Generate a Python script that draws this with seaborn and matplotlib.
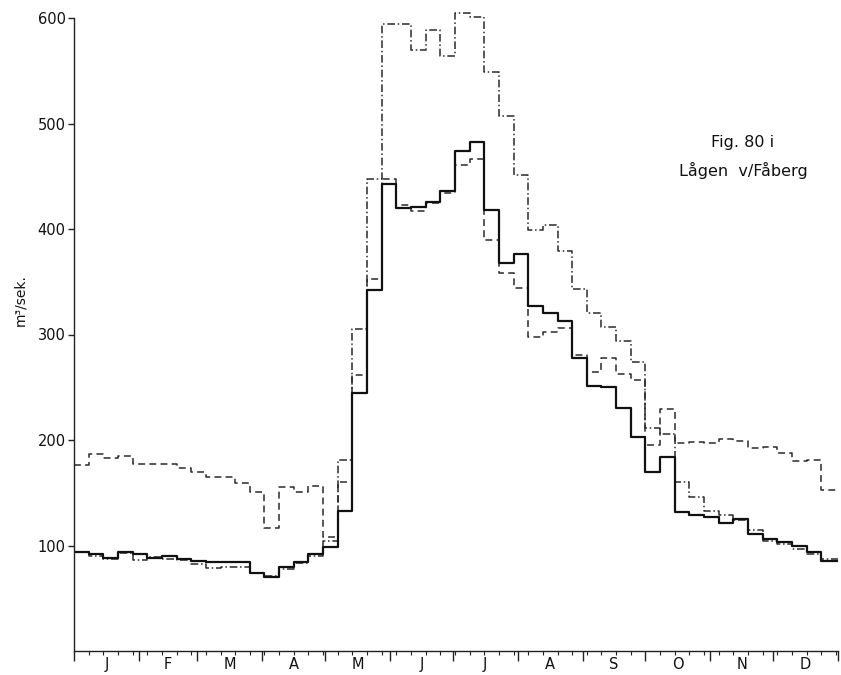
import numpy as np
import pandas as pd
import matplotlib
matplotlib.use("Agg")
import matplotlib.pyplot as plt
import seaborn as sns

# weekly mean discharge, m3/s
weeks = list(range(1, 53))
q_solid = [94, 92, 88, 94, 92, 88, 90, 87, 85, 84, 84, 84,
           74, 70, 80, 84, 92, 99, 133,
           245, 342, 443, 420, 421, 426, 436, 474, 482,
           418, 368, 376, 327, 320, 313, 278, 251, 250,
           230, 203, 170, 184, 132, 129, 127, 121, 125, 111,
           106, 103, 100, 94, 85]
q_dashed = [176, 187, 183, 185, 177, 177, 177, 173, 170, 165, 165, 159,
            151, 117, 155, 151, 156, 108, 160,
            262, 353, 447, 423, 417, 425, 434, 461, 466,
            390, 358, 344, 298, 302, 306, 281, 264, 278,
            263, 257, 195, 229, 197, 198, 197, 201, 199, 192,
            193, 188, 180, 181, 153]
q_dashdot = [94, 90, 87, 93, 86, 89, 87, 86, 82, 79, 80, 80,
             74, 71, 78, 83, 90, 104, 181,
             305, 447, 594, 594, 570, 589, 564, 605, 601,
             549, 507, 451, 399, 404, 379, 343, 320, 307,
             294, 274, 211, 206, 160, 146, 133, 129, 124, 115,
             104, 101, 97, 92, 87]

month_labels = ["J", "F", "M", "A", "M", "J", "J", "A", "S", "O", "N", "D"]
month_days = [31, 28, 31, 30, 31, 30, 31, 31, 30, 31, 30, 31]
y_ticks = [100, 200, 300, 400, 500, 600]

sns.set_style("ticks")
plt.rcParams["font.family"] = ["DejaVu Sans"]
plt.rcParams["xtick.labelcolor"] = "#111111"
plt.rcParams["ytick.labelcolor"] = "#111111"

# week start as day of year; one closing point so the last step reaches year end
day = [7 * (w - 1) for w in weeks] + [365]
df = pd.DataFrame({
    "day": day,
    "solid": q_solid + q_solid[-1:],
    "dashed": q_dashed + q_dashed[-1:],
    "dashdot": q_dashdot + q_dashdot[-1:],
})

# y axis drawn to 600 but the plot area goes a bit higher so the 605 peak shows
y_top = 612
fig = plt.figure(figsize=(8.41, 6.75), dpi=100)
ax = fig.add_axes([74 / 841, 24 / 675, 764 / 841, (633 * y_top / 600) / 675])

styles = {
    "dashed": dict(color="#2a2a2a", lw=1.1, linestyle=(0, (4.5, 2.8))),
    "dashdot": dict(color="#2a2a2a", lw=1.1, linestyle=(0, (5, 1.8, 1, 1.8))),
    "solid": dict(color="#111111", lw=1.6, linestyle="-"),
}
for col, kw in styles.items():
    sns.lineplot(data=df, x="day", y=col, ax=ax, drawstyle="steps-post",
                 estimator=None, **kw)

ax.set_xlim(0, 365)
ax.set_ylim(0, y_top)
ax.set_xlabel("")
ax.set_ylabel("")
sns.despine(ax=ax)
ax.spines["left"].set_bounds(0, 600)
for s in ("left", "bottom"):
    ax.spines[s].set_color("#222222")
    ax.spines[s].set_linewidth(1.0)

edges = np.cumsum([0] + month_days)
centers = (edges[:-1] + edges[1:]) / 2
ax.set_xticks(edges)
ax.set_xticklabels([])
ax.set_xticks([7 * k for k in range(53)], minor=True)
ax.tick_params(axis="x", which="major", direction="out", length=7, width=1, color="#222222")
ax.tick_params(axis="x", which="minor", direction="out", length=3, width=0.8, color="#222222")

sec = ax.secondary_xaxis("bottom")
sec.set_xticks(centers, month_labels)
sec.tick_params(length=0, pad=4, labelsize=10.5)
sec.spines["bottom"].set_visible(False)

ax.set_yticks(y_ticks)
ax.tick_params(axis="y", direction="out", length=4, width=1, labelsize=10.5, color="#222222", pad=2)

fig.text(20 / 841, 1 - 300 / 675, "m³/sek.", rotation=90, ha="center", va="center",
         fontsize=10, color="#111111")
fig.text(743 / 841, 1 - 142 / 675, "Fig. 80 i", ha="center", va="center",
         fontsize=11.5, color="#111111")
fig.text(743 / 841, 1 - 170 / 675, "Lågen  v/Fåberg", ha="center", va="center",
         fontsize=11.5, color="#111111")

fig.savefig("out.png", dpi=100, facecolor="white")
